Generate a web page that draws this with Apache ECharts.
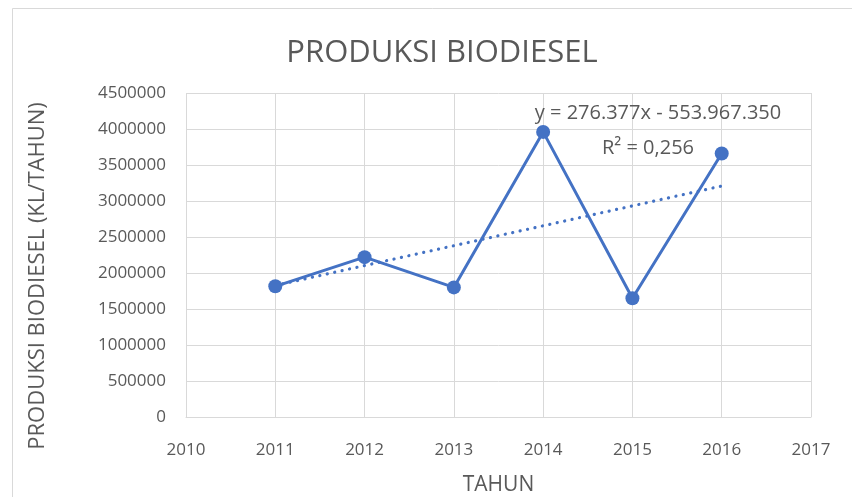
<!DOCTYPE html>
<html>
<head>
<meta charset="utf-8">
<script src="https://cdn.jsdelivr.net/npm/echarts@6/dist/echarts.min.js"></script>
<style>
  html, body { margin: 0; padding: 0; background: #fff; }
  #chart { width: 852px; height: 497px; }
</style>
</head>
<body>
<div id="chart"></div>
<script>
// data
const years = [2011, 2012, 2013, 2014, 2015, 2016];
const produksi = [1815000, 2220000, 1800000, 3960000, 1650000, 3660000];
const trendText = ['y = 276.377x - 553.967.350', 'R² = 0,256'];

// linear trendline (least squares over the data)
function linearFit(xs, ys) {
    const n = xs.length;
    const mx = xs.reduce((a, b) => a + b, 0) / n;
    const my = ys.reduce((a, b) => a + b, 0) / n;
    let sxy = 0, sxx = 0;
    for (let i = 0; i < n; i++) {
        sxy += (xs[i] - mx) * (ys[i] - my);
        sxx += (xs[i] - mx) * (xs[i] - mx);
    }
    const slope = sxy / sxx;
    return { slope: slope, intercept: my - slope * mx };
}
const fit = linearFit(years, produksi);
const trendData = [years[0], years[years.length - 1]].map(x => [x, fit.slope * x + fit.intercept]);

const FONT = "'Open Sans', 'Noto Sans', sans-serif";
const TXT = '#595959';
const BLUE = '#4472C4';

const chart = echarts.init(document.getElementById('chart'));

chart.setOption({
    backgroundColor: '#fff',
    animation: false,
    title: {
        text: 'PRODUKSI BIODIESEL',
        left: 437,
        top: 33,
        textAlign: 'center',
        textStyle: { fontFamily: FONT, fontSize: 31, fontWeight: 'normal', color: TXT }
    },
    grid: { left: 186, right: 41, top: 93, bottom: 80, outerBoundsMode: 'none', containLabel: false },
    xAxis: {
        type: 'value',
        min: 2010,
        max: 2017,
        interval: 1,
        name: 'TAHUN',
        nameLocation: 'middle',
        nameGap: 58,
        nameTextStyle: { fontFamily: FONT, fontSize: 21, color: TXT },
        axisLine: { show: true, lineStyle: { color: '#d9d9d9', width: 1 } },
        axisTick: { show: false },
        axisLabel: { fontFamily: FONT, fontSize: 17, color: TXT, margin: 25, formatter: v => String(v) },
        splitLine: { show: true, lineStyle: { color: '#d9d9d9', width: 1 } }
    },
    yAxis: {
        type: 'value',
        min: 0,
        max: 4500000,
        interval: 500000,
        axisLine: { show: false },
        axisTick: { show: false },
        axisLabel: {
            fontFamily: FONT, fontSize: 17, color: TXT, margin: 20,
            padding: [6, 0, 0, 0],
            formatter: v => String(v)
        },
        splitLine: { show: true, lineStyle: { color: '#d9d9d9', width: 1 } }
    },
    graphic: [
        {
            type: 'rect',
            shape: { x: 12.5, y: 8.5, width: 900, height: 600 },
            style: { fill: 'none', stroke: '#d9d9d9', lineWidth: 1 },
            silent: true
        },
        {
            type: 'text',
            x: 38,
            y: 276,
            rotation: Math.PI / 2,
            style: {
                text: 'PRODUKSI BIODIESEL (KL/TAHUN)',
                fontFamily: FONT, fontSize: 22, fill: TXT,
                align: 'center', verticalAlign: 'middle'
            }
        },
        {
            type: 'text',
            x: 658,
            y: 113,
            style: {
                text: trendText[0],
                fontFamily: FONT, fontSize: 20, fill: TXT,
                align: 'center', verticalAlign: 'middle'
            },
            z: 10
        },
        {
            type: 'text',
            x: 648,
            y: 148,
            style: {
                text: trendText[1],
                fontFamily: FONT, fontSize: 20, fill: TXT,
                align: 'center', verticalAlign: 'middle'
            },
            z: 10
        }
    ],
    series: [
        {
            type: 'line',
            data: trendData,
            symbol: 'none',
            lineStyle: { color: BLUE, width: 3.2, type: [0.1, 7.5], cap: 'round' },
            z: 2
        },
        {
            type: 'line',
            data: years.map((y, i) => [y, produksi[i]]),
            symbol: 'circle',
            symbolSize: 14,
            itemStyle: { color: BLUE },
            lineStyle: { color: BLUE, width: 3 },
            z: 3
        }
    ]
});
</script>
</body>
</html>
